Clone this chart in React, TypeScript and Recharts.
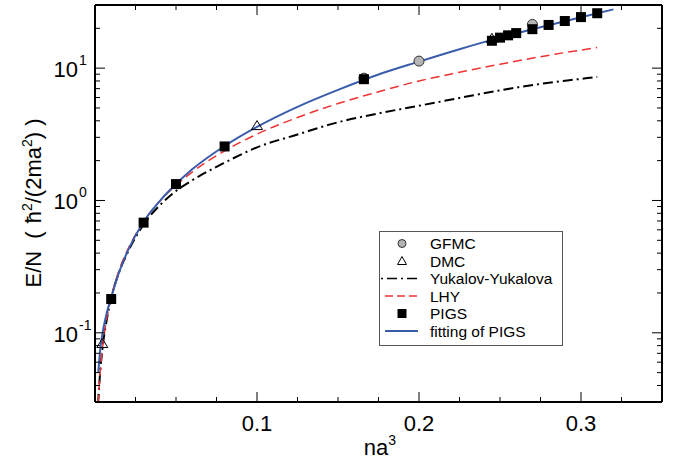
import React from 'react';
import { ComposedChart, Line, Scatter, XAxis, YAxis } from 'recharts';

const FONT = '"Liberation Sans", Arial, Helvetica, sans-serif';

// values
const pigsX = [0.01, 0.03, 0.05, 0.08, 0.166, 0.245, 0.25, 0.255, 0.26, 0.27, 0.28, 0.29, 0.3, 0.31];
const pigsY = [0.18, 0.68, 1.33, 2.56, 8.25, 16.1, 17.0, 17.7, 18.4, 19.7, 21.2, 22.7, 24.3, 26.0];

const gfmcX = [0.166, 0.2, 0.27];
const gfmcY = [8.4, 11.3, 21.4];

const dmcX = [0.0045, 0.1, 0.245];
const dmcY = [0.083, 3.68, 16.8];

const fitX = [0.002, 0.0035, 0.005, 0.0075, 0.01, 0.015, 0.02, 0.03, 0.04, 0.05, 0.06, 0.07, 0.08, 0.1, 0.125, 0.15, 0.175, 0.2, 0.225, 0.25, 0.275, 0.3, 0.32];
const fitY = [0.05, 0.08, 0.105, 0.145, 0.185, 0.29, 0.41, 0.69, 0.99, 1.33, 1.72, 2.13, 2.58, 3.6, 5.1, 6.85, 8.95, 11.2, 13.9, 17.0, 20.4, 24.2, 27.8];

const lhyX = [0.0019, 0.003, 0.005, 0.0075, 0.01, 0.015, 0.02, 0.03, 0.04, 0.05, 0.06, 0.08, 0.1, 0.125, 0.15, 0.175, 0.2, 0.225, 0.25, 0.275, 0.3, 0.31];
const lhyY = [0.029, 0.047, 0.084, 0.133, 0.186, 0.3, 0.42, 0.69, 0.99, 1.3, 1.64, 2.37, 3.17, 4.24, 5.4, 6.63, 8.0, 9.3, 10.7, 12.2, 13.7, 14.3];

const yyX = [0.0019, 0.003, 0.005, 0.0075, 0.01, 0.015, 0.02, 0.03, 0.04, 0.05, 0.06, 0.08, 0.1, 0.125, 0.15, 0.175, 0.2, 0.225, 0.25, 0.275, 0.3, 0.31];
const yyY = [0.029, 0.047, 0.083, 0.13, 0.183, 0.29, 0.4, 0.66, 0.92, 1.18, 1.42, 1.93, 2.52, 3.15, 3.9, 4.55, 5.2, 5.95, 6.8, 7.6, 8.3, 8.6];

const xTicks = [0.025, 0.05, 0.075, 0.1, 0.125, 0.15, 0.175, 0.2, 0.225, 0.25, 0.275, 0.3, 0.325];
const yTicks = [0.04, 0.05, 0.06, 0.07, 0.08, 0.09, 0.1, 0.2, 0.3, 0.4, 0.5, 0.6, 0.7, 0.8, 0.9, 1, 2, 3, 4, 5, 6, 7, 8, 9, 10, 20];

const legendLabels = ['GFMC', 'DMC', 'Yukalov-Yukalova', 'LHY', 'PIGS', 'fitting of PIGS'];

const zip = (xs: number[], ys: number[]) => xs.map((x, i) => ({ x, y: ys[i] }));

const pigsData = zip(pigsX, pigsY);
const gfmcData = zip(gfmcX, gfmcY);
const dmcData = zip(dmcX, dmcY);
const fitData = zip(fitX, fitY);
const lhyData = zip(lhyX, lhyY);
const yyData = zip(yyX, yyY);

const BLUE = '#3a5caa';
const RED = '#ee3333';
const YY_DASH = '10 4 2 4';
const LHY_DASH = '9 5';

const isMajorX = (v: number) => Math.abs(v * 10 - Math.round(v * 10)) < 1e-6;
const isMajorY = (v: number) => Math.abs(Math.log10(v) - Math.round(Math.log10(v))) < 1e-6;

const BottomTick = ({ x, y, payload }: any) => {
  const v = payload.value;
  const major = isMajorX(v);
  return (
    <g>
      <line x1={x} x2={x} y1={y} y2={y - (major ? 10 : 5)} stroke="#000" strokeWidth={1} />
      {major && (
        <text x={x} y={y + 29} textAnchor="middle" fontSize={22} fontFamily={FONT} fill="#000">
          {v.toFixed(1)}
        </text>
      )}
    </g>
  );
};

const TopTick = ({ x, y, payload }: any) => {
  const major = isMajorX(payload.value);
  return <line x1={x} x2={x} y1={y} y2={y + (major ? 10 : 5)} stroke="#000" strokeWidth={1} />;
};

const LeftTick = ({ x, y, payload }: any) => {
  const v = payload.value;
  const major = isMajorY(v);
  const e = Math.round(Math.log10(v));
  return (
    <g>
      <line x1={x} x2={x + (major ? 10 : 5)} y1={y} y2={y} stroke="#000" strokeWidth={1} />
      {major && (
        <g fontFamily={FONT} fill="#000">
          <text x={x - 17} y={y + 9} textAnchor="end" fontSize={22}>10</text>
          <text x={x - 16} y={y - 3} fontSize={14}>{e}</text>
        </g>
      )}
    </g>
  );
};

const RightTick = ({ x, y, payload }: any) => {
  const major = isMajorY(payload.value);
  return <line x1={x} x2={x - (major ? 10 : 5)} y1={y} y2={y} stroke="#000" strokeWidth={1} />;
};

const YTitle = () => (
  <text
    x={41}
    y={203}
    transform="rotate(-90, 41, 203)"
    textAnchor="middle"
    fontSize={22}
    fontFamily={FONT}
    fill="#000"
  >
    E/N{'\u00a0\u00a0'}(<tspan dx={8}>ħ</tspan>
    <tspan dy={-9} fontSize={14}>2</tspan>
    <tspan dy={9}>/(2ma</tspan>
    <tspan dy={-9} fontSize={14}>2</tspan>
    <tspan dy={9}>) )</tspan>
  </text>
);

const XTitle = () => (
  <text x={380} y={455} textAnchor="middle" fontSize={22} fontFamily={FONT} fill="#000">
    na<tspan dy={-10} fontSize={14}>3</tspan>
  </text>
);

const Square = ({ cx, cy }: any) => <rect x={cx - 5} y={cy - 5} width={10} height={10} fill="#000" />;
const Circle = ({ cx, cy }: any) => <circle cx={cx} cy={cy} r={5} fill="#b5b5b5" stroke="#333" strokeWidth={1} />;
const Triangle = ({ cx, cy }: any) => (
  <path d={`M${cx},${cy - 5} L${cx + 5.5},${cy + 4} L${cx - 5.5},${cy + 4} Z`} fill="none" stroke="#000" strokeWidth={1} />
);

const LegendBox = () => {
  const rowY = (i: number) => 12.5 + i * 17.5;
  return (
    <svg width={184} height={115} style={{ position: 'absolute', left: 379, top: 231 }}>
      <rect x={0.5} y={0.5} width={183} height={114} fill="#fff" stroke="#555" strokeWidth={1} />
      <circle cx={23} cy={rowY(0)} r={4} fill="#b5b5b5" stroke="#333" />
      <path d={`M23,${rowY(1) - 4.5} L27.5,${rowY(1) + 3.5} L18.5,${rowY(1) + 3.5} Z`} fill="none" stroke="#000" />
      <line x1={2} x2={39} y1={rowY(2)} y2={rowY(2)} stroke="#000" strokeWidth={1.5} strokeDasharray="2 4 10 4" />
      <line x1={6} x2={39} y1={rowY(3)} y2={rowY(3)} stroke={RED} strokeWidth={1.5} strokeDasharray="8 4" />
      <rect x={18.5} y={rowY(4) - 4.5} width={9} height={9} fill="#000" />
      <line x1={6} x2={39} y1={rowY(5)} y2={rowY(5)} stroke={BLUE} strokeWidth={2} />
      {legendLabels.map((t, i) => (
        <text key={t} x={51} y={rowY(i) + 5.5} fontSize={15.5} fontFamily={FONT} fill="#000">
          {t}
        </text>
      ))}
    </svg>
  );
};

export default function App() {
  return (
    <div style={{ position: 'absolute', left: 0, top: 0, width: 673, height: 463, background: '#fff' }}>
      <ComposedChart width={673} height={463} margin={{ top: 0, right: 0, bottom: 0, left: 0 }}>
        <XAxis
          xAxisId="b"
          dataKey="x"
          type="number"
          domain={[0, 0.35]}
          allowDataOverflow
          ticks={xTicks}
          interval={0}
          height={61}
          tickSize={0}
          tickMargin={0}
          tickLine={false}
          tick={<BottomTick />}
          axisLine={{ stroke: '#000', strokeWidth: 2 }}
          label={<XTitle />}
        />
        <XAxis
          xAxisId="t"
          orientation="top"
          dataKey="x"
          type="number"
          domain={[0, 0.35]}
          allowDataOverflow
          ticks={xTicks}
          interval={0}
          height={5}
          tickSize={0}
          tickMargin={0}
          tickLine={false}
          tick={<TopTick />}
          axisLine={{ stroke: '#000', strokeWidth: 2 }}
        />
        <YAxis
          yAxisId="l"
          dataKey="y"
          type="number"
          scale="log"
          domain={[0.03, 30]}
          allowDataOverflow
          ticks={yTicks}
          interval={0}
          width={95}
          tickSize={0}
          tickMargin={0}
          tickLine={false}
          tick={<LeftTick />}
          axisLine={{ stroke: '#000', strokeWidth: 2 }}
          label={<YTitle />}
        />
        <YAxis
          yAxisId="r"
          orientation="right"
          dataKey="y"
          type="number"
          scale="log"
          domain={[0.03, 30]}
          allowDataOverflow
          ticks={yTicks}
          interval={0}
          width={11}
          tickSize={0}
          tickMargin={0}
          tickLine={false}
          tick={<RightTick />}
          axisLine={{ stroke: '#000', strokeWidth: 2 }}
        />
        <Scatter xAxisId="b" yAxisId="l" data={gfmcData} shape={<Circle />} isAnimationActive={false} />
        <Scatter xAxisId="b" yAxisId="l" data={dmcData} shape={<Triangle />} isAnimationActive={false} />
        <Scatter xAxisId="b" yAxisId="l" data={pigsData} shape={<Square />} isAnimationActive={false} />
        <Line
          xAxisId="b"
          yAxisId="l"
          data={yyData}
          dataKey="y"
          type="monotone"
          stroke="#000"
          strokeWidth={2}
          strokeDasharray={YY_DASH}
          dot={false}
          isAnimationActive={false}
        />
        <Line
          xAxisId="b"
          yAxisId="l"
          data={lhyData}
          dataKey="y"
          type="monotone"
          stroke={RED}
          strokeWidth={1.5}
          strokeDasharray={LHY_DASH}
          dot={false}
          isAnimationActive={false}
        />
        <Line
          xAxisId="b"
          yAxisId="l"
          data={fitData}
          dataKey="y"
          type="monotone"
          stroke={BLUE}
          strokeWidth={2}
          dot={false}
          isAnimationActive={false}
        />
      </ComposedChart>
      <LegendBox />
    </div>
  );
}
